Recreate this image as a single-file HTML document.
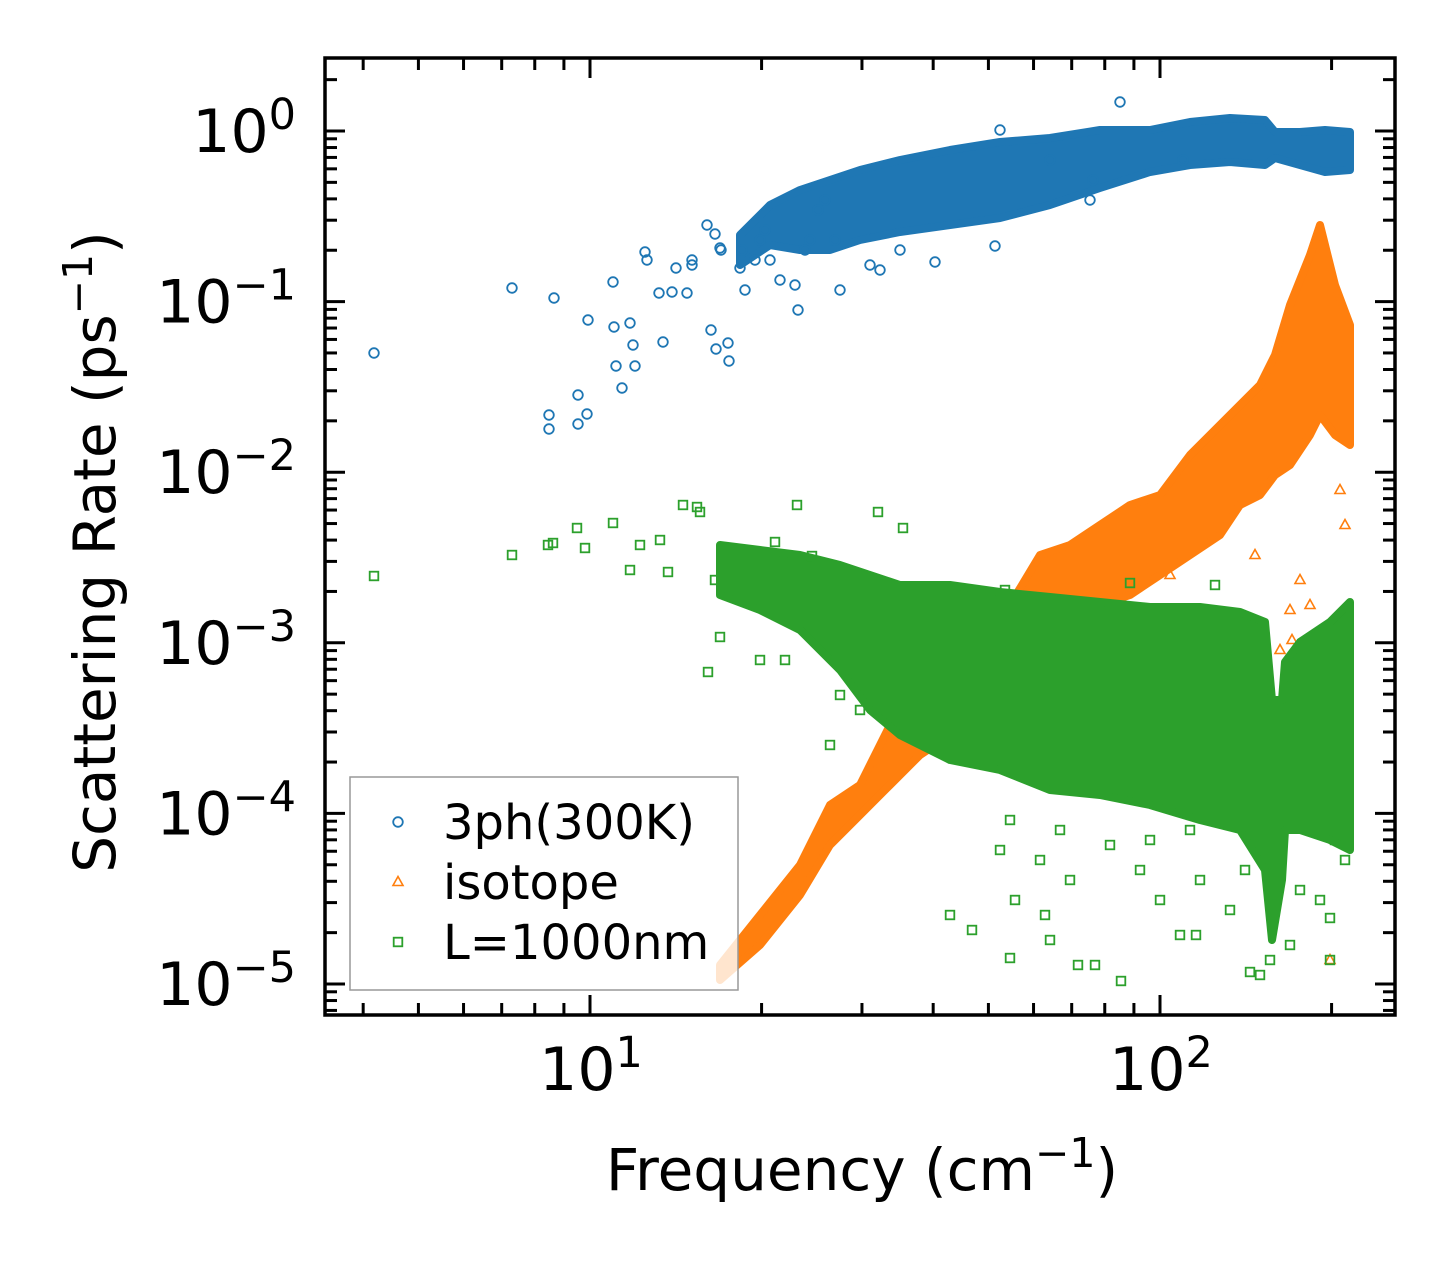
<!DOCTYPE html>
<html><head><meta charset="utf-8"><style>
body{margin:0;background:#fff}
svg{display:block;font-family:"DejaVu Sans","Liberation Sans",sans-serif}
</style></head><body>
<svg id="c" width="1455" height="1265" viewBox="0 0 1455 1265"></svg>
<script>
// ---- data (frequency cm^-1, rate ps^-1) ----
const P2F=px=>Math.pow(10,1+(px-590)/570), P2Y=py=>Math.pow(10,-(py-131)/170.6);
const blueFreq=[374,512,554,588,549,549,578,578,587,614,613,616,622,630,633,635,645,647,659,663,672,676,687,692,692,707,711,715,720,721,716,728,729,740,742,745,755,760,765,770,780,795,798,805,810,818,825,835,840,870,880,900,935,995,1000,1090,1093,1120,1183,1050].map(P2F);
const blueRate=[353,288,298,320,415,429,395,424,414,327,282,366,388,323,345,366,252,260,293,342,292,268,293,265,260,225,330,234,248,250,349,343,361,268,250,290,260,240,230,260,280,285,310,250,240,210,200,240,290,265,270,250,262,246,130,200,180,102,160,160].map(P2Y);
const blueBandF=[740,770,800,830,860,900,950,1000,1050,1100,1150,1190,1230,1265,1275,1300,1325,1350].map(P2F);
const blueBandHi=[235,205,190,180,170,160,150,142,138,130,130,122,118,120,132,132,130,132].map(P2Y);
const blueBandLo=[265,245,250,250,240,232,225,218,205,188,172,165,162,165,158,165,172,170].map(P2Y);

const orangeFreq=[1170,1205,1255,1300,1330,1290,1292,1280,1345,1340,1310].map(P2F);
const orangeRate=[575,640,555,580,960,610,640,650,525,490,605].map(P2Y);
const orangeBandF=[720,760,800,830,860,890,920,950,980,1010,1040,1070,1100,1130,1160,1190,1220,1240,1260,1275,1290,1310,1320,1335,1350].map(P2F);
const orangeBandHi=[965,915,865,805,785,725,718,695,655,605,555,545,525,505,495,455,425,405,385,355,305,255,225,285,325].map(P2Y);
const orangeBandLo=[980,945,895,845,815,785,755,735,705,675,635,615,605,595,575,555,535,505,495,475,465,435,415,435,445].map(P2Y);

const greenFreq=[374,512,548,553,577,585,613,630,640,660,668,683,697,700,715,720,708,760,775,785,797,812,830,840,860,878,903,950,972,1005,1010,1015,1045,1050,1078,1095,1121,1130,1180,1196,1215,1250,1260,1290,1330,1330,1000,1040,1070,1110,1140,1160,1200,1230,1245,1300,1320,1345,1010,1060,1150,1190,1270,1335].map(P2F);
const greenRate=[576,555,545,543,528,548,523,570,545,540,572,505,507,512,580,637,672,660,542,660,505,556,745,695,710,512,528,915,930,590,958,900,915,940,965,965,981,583,935,935,585,972,975,945,918,960,850,860,880,845,870,900,880,910,870,890,900,860,820,830,840,830,960,840].map(P2Y);
const greenBandF=[720,760,800,840,870,900,950,1000,1050,1100,1150,1200,1240,1265,1272,1282,1285,1300,1330,1350].map(P2F);
const greenBandHi=[545,550,555,565,575,585,585,592,597,602,607,607,612,622,700,700,662,642,622,602].map(P2Y);
const greenBandLo=[595,610,630,670,710,735,760,770,790,795,805,820,830,870,940,880,830,830,840,850].map(P2Y);

const xMajor=[10,100], xMajorLbl=["1","2"];
const yMajor=[1,0.1,0.01,0.001,1e-4,1e-5], yMajorLbl=["0","\u22121","\u22122","\u22123","\u22124","\u22125"];

// ---- scales ----
const L=325,R=1395,T=58,B=1015;
const X=f=>590+570*(Math.log10(f)-1);
const Y=v=>131-170.6*Math.log10(v);
const NS="http://www.w3.org/2000/svg", svg=document.getElementById('c');
function mk(t,a,p){const e=document.createElementNS(NS,t);for(const k in a)e.setAttribute(k,a[k]);(p||svg).appendChild(e);return e;}

const plot=mk('g',{});


const clip=mk('clipPath',{id:'cp'});mk('rect',{x:L,y:T,width:R-L,height:B-T},clip);
plot.setAttribute('clip-path','url(#cp)');

function band(F,H,Lo,col,name){
  let pts=F.map((f,i)=>X(f)+','+Y(H[i])).concat(F.map((f,i)=>X(f)+','+Y(Lo[i])).reverse());
  const p=mk('polygon',{points:pts.join(' '),fill:col,stroke:col,'stroke-width':8,'stroke-linejoin':'round'},plot);
  
  
}
function marker(type,x,y,col,g){
  if(type==='o')return mk('circle',{cx:x,cy:y,r:4.8,fill:'none',stroke:col,'stroke-width':1.8},g);
  if(type==='^')return mk('polygon',{points:`${x},${y-5.5} ${x-5},${y+3.5} ${x+5},${y+3.5}`,fill:'none',stroke:col,'stroke-width':1.6},g);
  return mk('rect',{x:x-4.3,y:y-4.3,width:8.6,height:8.6,fill:'none',stroke:col,'stroke-width':1.8},g);
}
function series(F,V,type,col,name){
  const g=mk('g',{},plot);
  
  
  F.forEach((f,i)=>{const m=marker(type,X(f),Y(V[i]),col,g);
    
    });
}
const BL='#1f77b4',OR='#ff7f0e',GR='#2ca02c';
band(blueBandF,blueBandHi,blueBandLo,BL,'3ph-dense-band');
series(blueFreq,blueRate,'o',BL,'3ph-series');
band(orangeBandF,orangeBandHi,orangeBandLo,OR,'isotope-dense-band');
series(orangeFreq,orangeRate,'^',OR,'isotope-series');
band(greenBandF,greenBandHi,greenBandLo,GR,'boundary-dense-band');
series(greenFreq,greenRate,'s',GR,'boundary-series');

// ---- axes frame & ticks ----
const fr=mk('rect',{x:L,y:T,width:R-L,height:B-T,fill:'none',stroke:'#000','stroke-width':3.5});


const tk=mk('g',{stroke:'#000','stroke-width':3});
function vt(x,len){mk('line',{x1:x,y1:B,x2:x,y2:B-len},tk);mk('line',{x1:x,y1:T,x2:x,y2:T+len},tk);}
function ht(y,len){mk('line',{x1:L,y1:y,x2:L+len,y2:y},tk);mk('line',{x1:R,y1:y,x2:R-len,y2:y},tk);}
for(let d=1;d<=100;d*=10)for(let m=1;m<10;m++){const f=d*m,x=X(f);if(x>L&&x<R)vt(x,m===1?20:12);}
for(let e=-6;e<=0;e++)for(let m=1;m<10;m++){const y=Y(m*Math.pow(10,e));if(y>T&&y<B)ht(y,m===1?20:12);}

xMajor.forEach((f,i)=>{const t=mk('text',{x:X(f)+1,y:1090,'text-anchor':'middle','font-size':60});
  
  
  t.innerHTML='10<tspan dy="-23" font-size="43">'+xMajorLbl[i]+'</tspan>';});
yMajor.forEach((v,i)=>{const t=mk('text',{x:296,y:Y(v)+21,'text-anchor':'end','font-size':60});
  
  
  t.innerHTML='10<tspan dy="-23" font-size="43">'+yMajorLbl[i]+'</tspan>';});

const xt=mk('text',{x:862,y:1190,'text-anchor':'middle','font-size':58});


xt.innerHTML='Frequency (cm<tspan dy="-23" font-size="41">\u22121</tspan><tspan dy="23">)</tspan>';
const yt=mk('text',{x:0,y:0,'text-anchor':'middle','font-size':58,transform:'translate(115,552) rotate(-90)'});


yt.innerHTML='Scattering Rate (ps<tspan dy="-23" font-size="41">\u22121</tspan><tspan dy="23">)</tspan>';

// ---- legend ----
const lg=mk('g',{});


mk('rect',{x:350,y:777,width:388,height:213,fill:'#fff','fill-opacity':0.8,stroke:'#999','stroke-width':1.5},lg);
const legLabels=['3ph(300K)','isotope','L=1000nm'], legTypes=['o','^','s'], legCols=[BL,OR,GR];
legLabels.forEach((s,i)=>{const y=822+i*60;
  const e=mk('g',{},lg);
  
  
  marker(legTypes[i],398,y,legCols[i],e);
  const t=mk('text',{x:443,y:y+17,'font-size':48},e);t.textContent=s;});
</script>
</body></html>
